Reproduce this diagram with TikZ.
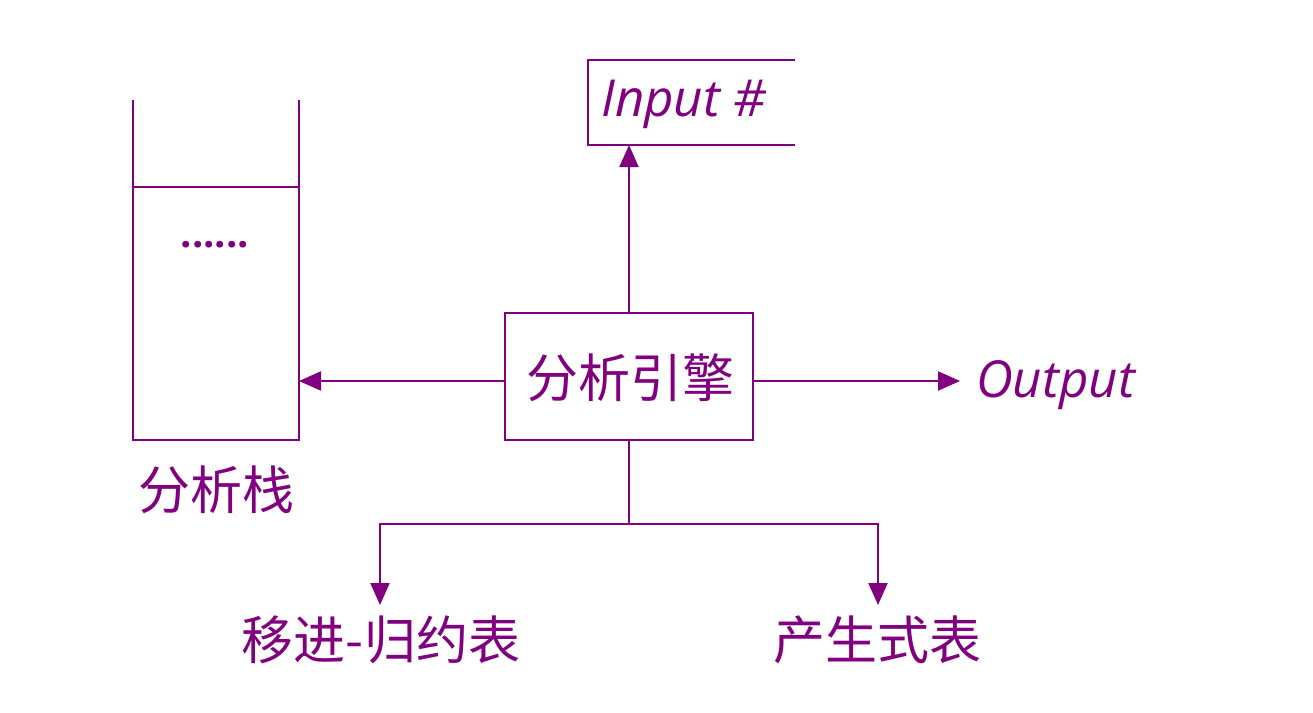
\documentclass[tikz,border=0pt]{standalone}
\usepackage{fontspec}
\setmainfont{Open Sans}
\newfontfamily\cjk{Noto Sans CJK SC}
\usetikzlibrary{arrows.meta}
\definecolor{pp}{HTML}{800080}
\begin{document}
\begin{tikzpicture}[x=1pt,y=-1pt,
  ln/.style={draw=pp,line width=2pt},
  arr/.style={ln,-{Triangle[length=22pt,width=19pt]}},
  cjkt/.style={text=pp,font=\cjk\fontsize{52}{52}\selectfont,inner sep=0pt},
  lat/.style={text=pp,font=\itshape\fontsize{51}{51}\selectfont,inner sep=0pt}]
\useasboundingbox (0,0) rectangle (1313,712);
% stack
\coordinate (stl) at (133,100);
\coordinate (str) at (299,100);
\coordinate (sbl) at (133,440);
\coordinate (sbr) at (299,440);
\draw[ln,line join=miter] (stl) -- (sbl) -- (sbr) -- (str);
\coordinate (sml) at (133,187);
\coordinate (smr) at (299,187);
\draw[ln] (sml) -- (smr);
\node[text=pp,font=\bfseries\fontsize{40}{40}\selectfont,inner sep=0pt] (dots) at (215,245) {......};
\coordinate (sarr) at (299,381);
\node[cjkt] (stacklbl) at (216,490) {分析栈};
% engine
\node[ln,minimum width=248pt,minimum height=127pt,inner sep=0pt] (eng) at (629,376.5) {};
\node[cjkt] (englbl) at (630,378) {分析引擎};
% input
\coordinate (itl) at (795,60);
\coordinate (itlc) at (588,60);
\coordinate (ibl) at (588,145);
\coordinate (ibr) at (795,145);
\draw[ln,line join=miter] (itl) -- (itlc) -- (ibl) -- (ibr);
\node[lat,anchor=west] (inp) at (601,104) {Input \#};
\coordinate (iarr) at (629,145);
\draw[arr] (eng.north) -- (iarr);
% left arrow
\draw[arr] (eng.west |- sarr) -- (sarr);
% output
\node[lat,anchor=west] (out) at (976,385) {Output};
\coordinate (oarr) at (960,381);
\draw[arr] (eng.east |- oarr) -- (oarr);
% bottom
\coordinate (junc) at (629,524);
\coordinate (jl) at (380,524);
\coordinate (jr) at (878,524);
\coordinate (al) at (380,605);
\coordinate (ar) at (878,605);
\draw[ln] (eng.south) -- (junc);
\draw[arr,line join=miter] (junc) -- (jl) -- (al);
\draw[arr,line join=miter] (junc) -- (jr) -- (ar);
\node[cjkt] (srt) at (381,640) {移进-归约表};
\node[cjkt] (prt) at (877,640) {产生式表};
\end{tikzpicture}
\end{document}
